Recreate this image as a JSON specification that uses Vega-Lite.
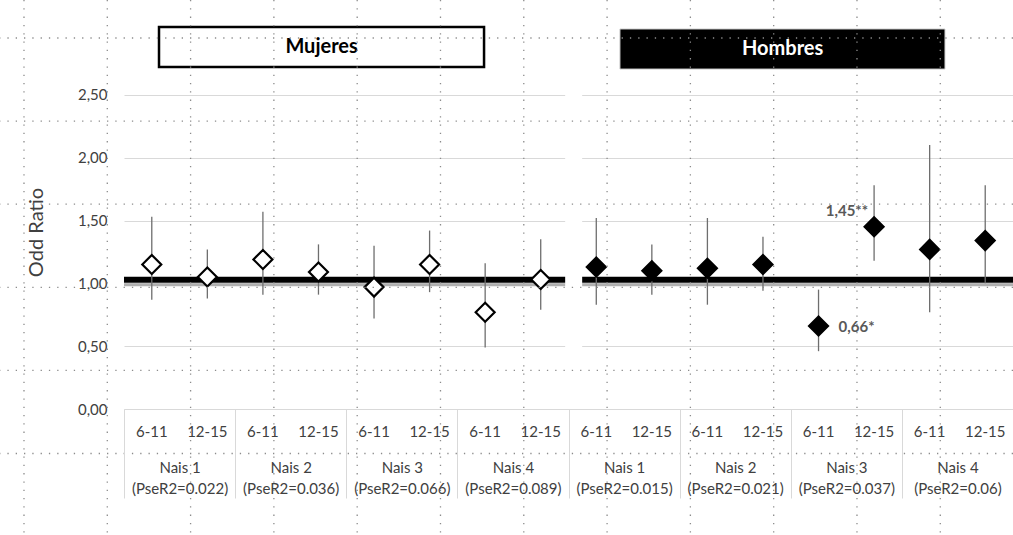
{
  "$schema": "https://vega.github.io/schema/vega-lite/v6.json",
  "width": 1013,
  "height": 535,
  "autosize": "none",
  "padding": 0,
  "background": "white",
  "config": {
    "font": "Lato",
    "view": {"stroke": null}
  },
  "datasets": {
    "or": [
      {"sexo": "Mujeres", "grupo": "Mujeres|Nais 1|(PseR2=0.022)", "edad": "6-11", "or": 1.15, "lo": 0.87, "hi": 1.53},
      {"sexo": "Mujeres", "grupo": "Mujeres|Nais 1|(PseR2=0.022)", "edad": "12-15", "or": 1.05, "lo": 0.88, "hi": 1.27},
      {"sexo": "Mujeres", "grupo": "Mujeres|Nais 2|(PseR2=0.036)", "edad": "6-11", "or": 1.19, "lo": 0.91, "hi": 1.57},
      {"sexo": "Mujeres", "grupo": "Mujeres|Nais 2|(PseR2=0.036)", "edad": "12-15", "or": 1.09, "lo": 0.91, "hi": 1.31},
      {"sexo": "Mujeres", "grupo": "Mujeres|Nais 3|(PseR2=0.066)", "edad": "6-11", "or": 0.97, "lo": 0.72, "hi": 1.30},
      {"sexo": "Mujeres", "grupo": "Mujeres|Nais 3|(PseR2=0.066)", "edad": "12-15", "or": 1.15, "lo": 0.93, "hi": 1.42},
      {"sexo": "Mujeres", "grupo": "Mujeres|Nais 4|(PseR2=0.089)", "edad": "6-11", "or": 0.77, "lo": 0.49, "hi": 1.16},
      {"sexo": "Mujeres", "grupo": "Mujeres|Nais 4|(PseR2=0.089)", "edad": "12-15", "or": 1.03, "lo": 0.79, "hi": 1.35},
      {"sexo": "Hombres", "grupo": "Hombres|Nais 1|(PseR2=0.015)", "edad": "6-11", "or": 1.13, "lo": 0.83, "hi": 1.52},
      {"sexo": "Hombres", "grupo": "Hombres|Nais 1|(PseR2=0.015)", "edad": "12-15", "or": 1.10, "lo": 0.91, "hi": 1.31},
      {"sexo": "Hombres", "grupo": "Hombres|Nais 2|(PseR2=0.021)", "edad": "6-11", "or": 1.12, "lo": 0.83, "hi": 1.52},
      {"sexo": "Hombres", "grupo": "Hombres|Nais 2|(PseR2=0.021)", "edad": "12-15", "or": 1.15, "lo": 0.94, "hi": 1.37},
      {"sexo": "Hombres", "grupo": "Hombres|Nais 3|(PseR2=0.037)", "edad": "6-11", "or": 0.66, "lo": 0.46, "hi": 0.95, "etiqueta": "0,66*"},
      {"sexo": "Hombres", "grupo": "Hombres|Nais 3|(PseR2=0.037)", "edad": "12-15", "or": 1.45, "lo": 1.18, "hi": 1.78, "etiqueta": "1,45**"},
      {"sexo": "Hombres", "grupo": "Hombres|Nais 4|(PseR2=0.06)", "edad": "6-11", "or": 1.27, "lo": 0.77, "hi": 2.10},
      {"sexo": "Hombres", "grupo": "Hombres|Nais 4|(PseR2=0.06)", "edad": "12-15", "or": 1.34, "lo": 1.00, "hi": 1.78}
    ],
    "columnas": [
      {"col": 0}, {"col": 1}, {"col": 2}, {"col": 3}, {"col": 4}, {"col": 5},
      {"col": 6}, {"col": 7}, {"col": 8}, {"col": 9}, {"col": 10}, {"col": 11}
    ],
    "filas": [
      {"fila": 0}, {"fila": 1}, {"fila": 2}, {"fila": 3}, {"fila": 4}, {"fila": 5}
    ]
  },
  "layer": [
    {
      "data": {"name": "or"},
      "layer": [
        {
          "data": {"values": [{}]},
          "mark": {"type": "rect", "fill": "white"},
          "encoding": {
            "x": {"datum": "Mujeres|Nais 4|(PseR2=0.089)", "bandPosition": 0.97},
            "x2": {"datum": "Hombres|Nais 1|(PseR2=0.015)", "bandPosition": 0.123},
            "y": {"datum": 0.03},
            "y2": {"datum": 2.62}
          }
        },
        {
          "data": {"values": [{}]},
          "mark": {"type": "rect", "fill": "white", "stroke": "black", "strokeWidth": 2.5},
          "encoding": {
            "x": {"datum": "Mujeres|Nais 1|(PseR2=0.022)", "bandPosition": 0.315},
            "x2": {"datum": "Mujeres|Nais 4|(PseR2=0.089)", "bandPosition": 0.24},
            "y": {"datum": 3.04},
            "y2": {"datum": 2.721}
          }
        },
        {
          "data": {"values": [{}]},
          "mark": {"type": "text", "fontSize": 20, "fontWeight": "bold", "color": "black", "baseline": "middle", "align": "center"},
          "encoding": {
            "x": {"datum": "Mujeres|Nais 2|(PseR2=0.036)", "bandPosition": 0.778},
            "y": {"datum": 2.881},
            "text": {"value": "Mujeres"}
          }
        },
        {
          "data": {"values": [{}]},
          "mark": {"type": "rect", "fill": "black", "stroke": "#d0d0d0", "strokeWidth": 1},
          "encoding": {
            "x": {"datum": "Hombres|Nais 1|(PseR2=0.015)", "bandPosition": 0.463},
            "x2": {"datum": "Hombres|Nais 4|(PseR2=0.06)", "bandPosition": 0.388},
            "y": {"datum": 3.024},
            "y2": {"datum": 2.705}
          }
        },
        {
          "data": {"values": [{}]},
          "mark": {"type": "text", "fontSize": 20, "fontWeight": "bold", "color": "white", "baseline": "middle", "align": "center"},
          "encoding": {
            "x": {"datum": "Hombres|Nais 2|(PseR2=0.021)", "bandPosition": 0.927},
            "y": {"datum": 2.865},
            "text": {"value": "Hombres"}
          }
        },
        {
          "data": {"values": [{}]},
          "mark": {"type": "rule", "color": "#b0b0b0", "strokeWidth": 3, "yOffset": 1.5},
          "encoding": {
            "x": {"datum": "Mujeres|Nais 1|(PseR2=0.022)", "bandPosition": 0},
            "x2": {"datum": "Mujeres|Nais 4|(PseR2=0.089)", "bandPosition": 0.97},
            "y": {"datum": 1}
          }
        },
        {
          "data": {"values": [{}]},
          "mark": {"type": "rule", "color": "#b0b0b0", "strokeWidth": 3, "yOffset": 1.5},
          "encoding": {
            "x": {"datum": "Hombres|Nais 1|(PseR2=0.015)", "bandPosition": 0.123},
            "x2": {"datum": "Hombres|Nais 4|(PseR2=0.06)", "bandPosition": 1},
            "y": {"datum": 1}
          }
        },
        {
          "data": {"values": [{}]},
          "mark": {"type": "rule", "color": "black", "strokeWidth": 6, "yOffset": -3.5},
          "encoding": {
            "x": {"datum": "Mujeres|Nais 1|(PseR2=0.022)", "bandPosition": 0},
            "x2": {"datum": "Mujeres|Nais 4|(PseR2=0.089)", "bandPosition": 0.97},
            "y": {"datum": 1}
          }
        },
        {
          "data": {"values": [{}]},
          "mark": {"type": "rule", "color": "black", "strokeWidth": 6, "yOffset": -3.5},
          "encoding": {
            "x": {"datum": "Hombres|Nais 1|(PseR2=0.015)", "bandPosition": 0.123},
            "x2": {"datum": "Hombres|Nais 4|(PseR2=0.06)", "bandPosition": 1},
            "y": {"datum": 1}
          }
        },
        {
          "mark": {"type": "rule", "color": "#6e6e6e", "strokeWidth": 1.3},
          "encoding": {
            "x": {
              "field": "grupo",
              "type": "nominal",
              "scale": {
                "domain": [
                  "Mujeres|Nais 1|(PseR2=0.022)", "Mujeres|Nais 2|(PseR2=0.036)",
                  "Mujeres|Nais 3|(PseR2=0.066)", "Mujeres|Nais 4|(PseR2=0.089)",
                  "Hombres|Nais 1|(PseR2=0.015)", "Hombres|Nais 2|(PseR2=0.021)",
                  "Hombres|Nais 3|(PseR2=0.037)", "Hombres|Nais 4|(PseR2=0.06)"
                ],
                "range": [124, 1013],
                "paddingInner": 0,
                "paddingOuter": 0
              },
              "axis": {
                "orient": "bottom",
                "offset": -126,
                "title": null,
                "grid": false,
                "domain": true,
                "domainColor": "#d9d9d9",
                "domainWidth": 1,
                "ticks": true,
                "tickBand": "extent",
                "tickSize": 89,
                "tickColor": "#d9d9d9",
                "tickWidth": 1,
                "labelExpr": "slice(split(datum.value, '|'), 1)",
                "labelPadding": -38,
                "labelAlign": "center",
                "labelBaseline": "top",
                "labelLineHeight": 21,
                "labelFontSize": 15,
                "labelColor": "#404040",
                "labelAngle": 0,
                "labelOverlap": false,
                "labelBound": false,
                "labelFlush": false
              }
            },
            "xOffset": {
              "field": "edad",
              "type": "nominal",
              "scale": {"domain": ["6-11", "12-15"], "paddingInner": 0, "paddingOuter": 0}
            },
            "y": {
              "field": "lo",
              "type": "quantitative",
              "scale": {"domain": [0, 3], "range": [409, 32], "nice": false, "zero": false},
              "axis": {
                "orient": "left",
                "offset": -111,
                "values": [0, 0.5, 1, 1.5, 2, 2.5],
                "labelExpr": "replace(format(datum.value, '.2f'), '.', ',')",
                "grid": true,
                "gridColor": "#d9d9d9",
                "gridWidth": 1,
                "domain": false,
                "ticks": false,
                "labelPadding": 4,
                "labelFontSize": 15,
                "labelColor": "#404040",
                "title": "Odd Ratio",
                "titleFontSize": 20,
                "titleFontWeight": "normal",
                "titleColor": "#404040",
                "titleAngle": 270,
                "titleAlign": "center",
                "titleBaseline": "middle",
                "titleX": -75,
                "titleY": 232
              }
            },
            "y2": {"field": "hi"}
          }
        },
        {
          "mark": {"type": "point", "shape": "diamond", "size": 360, "filled": true, "opacity": 1, "stroke": "black", "strokeWidth": 2.2},
          "encoding": {
            "x": {"field": "grupo", "type": "nominal"},
            "xOffset": {"field": "edad", "type": "nominal"},
            "y": {"field": "or", "type": "quantitative"},
            "fill": {
              "field": "sexo",
              "type": "nominal",
              "scale": {"domain": ["Mujeres", "Hombres"], "range": ["#ffffff", "#000000"]},
              "legend": null
            }
          }
        },
        {
          "mark": {"type": "text", "fontSize": 15, "color": "#404040", "baseline": "middle", "align": "center"},
          "encoding": {
            "x": {"field": "grupo", "type": "nominal"},
            "xOffset": {"field": "edad", "type": "nominal"},
            "y": {"datum": -0.183},
            "text": {"field": "edad"}
          }
        },
        {
          "transform": [{"filter": "datum.etiqueta && datum.or > 1"}],
          "mark": {"type": "text", "fontSize": 15, "fontWeight": "bold", "color": "#595959", "align": "right", "baseline": "middle", "dx": -6, "dy": -16},
          "encoding": {
            "x": {"field": "grupo", "type": "nominal"},
            "xOffset": {"field": "edad", "type": "nominal"},
            "y": {"field": "or", "type": "quantitative"},
            "text": {"field": "etiqueta"}
          }
        },
        {
          "transform": [{"filter": "datum.etiqueta && datum.or < 1"}],
          "mark": {"type": "text", "fontSize": 15, "fontWeight": "bold", "color": "#595959", "align": "left", "baseline": "middle", "dx": 20, "dy": 1},
          "encoding": {
            "x": {"field": "grupo", "type": "nominal"},
            "xOffset": {"field": "edad", "type": "nominal"},
            "y": {"field": "or", "type": "quantitative"},
            "text": {"field": "etiqueta"}
          }
        }
      ]
    },
    {
      "data": {"name": "columnas"},
      "mark": {"type": "rule", "color": "#8c8c8c", "strokeWidth": 1.3, "strokeDash": [1.3, 7]},
      "encoding": {
        "x": {
          "field": "col",
          "type": "quantitative",
          "scale": {"domain": [-0.288, 11.873], "nice": false, "zero": false},
          "axis": null
        }
      }
    },
    {
      "data": {"name": "filas"},
      "mark": {"type": "rule", "color": "#8c8c8c", "strokeWidth": 1.3, "strokeDash": [1.3, 7]},
      "encoding": {
        "y": {
          "field": "fila",
          "type": "quantitative",
          "scale": {"domain": [-0.457, 5.981], "reverse": true, "nice": false, "zero": false},
          "axis": null
        }
      }
    }
  ],
  "resolve": {"scale": {"x": "independent", "y": "independent"}}
}
